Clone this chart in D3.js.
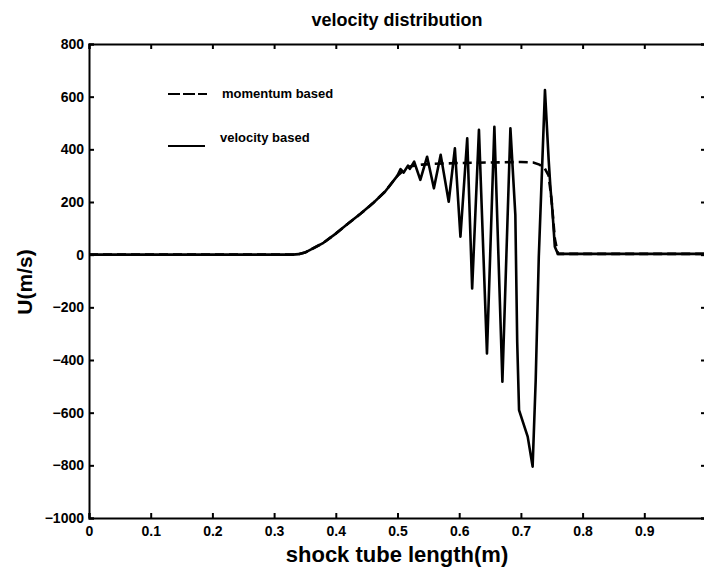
<!DOCTYPE html>
<html>
<head>
<meta charset="utf-8">
<script src="https://cdn.jsdelivr.net/npm/d3@7"></script>
<style>
  body { margin: 0; background: #fff; }
  svg { display: block; }
  text { font-family: "Liberation Sans", Arial, Helvetica, sans-serif; font-weight: bold; fill: #000; }
  .axis path, .axis line { stroke: #000; stroke-width: 2; }
  .axis text { font-size: 14px; }
</style>
</head>
<body>
<svg id="chart" width="704" height="568"></svg>
<script>
// velocity distribution along the shock tube

// x positions (m) and velocity (m/s) - velocity based
var velX = [0, 0.33, 0.34, 0.35, 0.36, 0.38, 0.40, 0.42, 0.44, 0.46, 0.48, 0.50, 0.505, 0.51, 0.517, 0.52,
    0.527, 0.537, 0.548, 0.559, 0.570, 0.583, 0.593, 0.602, 0.613, 0.621, 0.632, 0.645, 0.657, 0.670,
    0.683, 0.691, 0.694, 0.697, 0.711, 0.719, 0.724, 0.729, 0.739, 0.745, 0.748, 0.751, 0.755, 0.760, 1.0];
var velU = [0, 0, 2, 8, 20, 45, 80, 118, 155, 195, 240, 300, 325, 312, 338, 326,
    353, 284, 372, 252, 379, 201, 404, 68, 442, -128, 474, -375, 486, -482,
    480, 150, -330, -590, -691, -805, -476, -8, 625, 360, 250, 170, 30, 3, 3];

// momentum based
var momX = [0, 0.33, 0.34, 0.35, 0.36, 0.38, 0.40, 0.42, 0.44, 0.46, 0.48, 0.50, 0.51, 0.52, 0.54, 0.56,
    0.60, 0.65, 0.70, 0.72, 0.73, 0.738, 0.745, 0.75, 0.755, 0.76, 1.0];
var momU = [0, 0, 2, 8, 20, 45, 80, 118, 155, 195, 240, 300, 320, 335, 342, 345,
    348, 350, 352, 350, 342, 330, 300, 200, 60, 3, 3];

var xTicks = [0, 0.1, 0.2, 0.3, 0.4, 0.5, 0.6, 0.7, 0.8, 0.9];
var yTicks = [800, 600, 400, 200, 0, -200, -400, -600, -800, -1000];

var svg = d3.select("#chart"),
    margin = { top: 44, left: 89 },
    plotRight = 706,
    plotBottom = 518;

var x = d3.scaleLinear().domain([0, 1]).range([margin.left, plotRight]),
    y = d3.scaleLinear().domain([-1000, 800]).range([plotBottom, margin.top]);

// axes, ticks pointing inward
svg.append("g")
    .attr("class", "axis")
    .attr("transform", "translate(0," + plotBottom + ")")
    .call(d3.axisBottom(x).tickValues(xTicks).tickSize(-5).tickPadding(8).tickFormat(function (d) { return String(d); }));

svg.append("g")
    .attr("class", "axis")
    .attr("transform", "translate(0," + margin.top + ")")
    .call(d3.axisTop(x).tickValues(xTicks).tickSize(-5).tickFormat(""));

svg.append("g")
    .attr("class", "axis")
    .attr("transform", "translate(" + margin.left + ",0)")
    .call(d3.axisLeft(y).tickValues(yTicks).tickSize(-5).tickPadding(5).tickFormat(d3.format("d")));

svg.append("g")
    .attr("class", "axis")
    .attr("transform", "translate(" + plotRight + ",0)")
    .call(d3.axisRight(y).tickValues(yTicks).tickSize(-5).tickFormat(""));

svg.selectAll(".axis .domain").attr("stroke-width", 2.5);

// curves
var line = d3.line()
    .x(function (d) { return x(d[0]); })
    .y(function (d) { return y(d[1]); });

var velData = velX.map(function (v, i) { return [v, velU[i]]; });
var momData = momX.map(function (v, i) { return [v, momU[i]]; });

svg.append("path")
    .datum(momData)
    .attr("fill", "none")
    .attr("stroke", "#000")
    .attr("stroke-width", 2.6)
    .attr("stroke-dasharray", "9,5")
    .attr("d", line);

svg.append("path")
    .datum(velData)
    .attr("fill", "none")
    .attr("stroke", "#000")
    .attr("stroke-width", 2.6)
    .attr("stroke-linejoin", "round")
    .attr("d", line);

// legend
svg.append("line")
    .attr("x1", 168).attr("x2", 207).attr("y1", 94).attr("y2", 94)
    .attr("stroke", "#000").attr("stroke-width", 2.2).attr("stroke-dasharray", "12,3");
svg.append("text").attr("x", 222).attr("y", 98).style("font-size", "13px").text("momentum based");

svg.append("line")
    .attr("x1", 168).attr("x2", 205).attr("y1", 146).attr("y2", 146)
    .attr("stroke", "#000").attr("stroke-width", 2.2);
svg.append("text").attr("x", 220).attr("y", 142).style("font-size", "13px").text("velocity based");

// titles
svg.append("text")
    .attr("x", 397).attr("y", 26)
    .attr("text-anchor", "middle")
    .style("font-size", "18px")
    .text("velocity distribution");

svg.append("text")
    .attr("x", 397).attr("y", 562)
    .attr("text-anchor", "middle")
    .style("font-size", "22px")
    .text("shock tube length(m)");

svg.append("text")
    .attr("transform", "translate(32,282) rotate(-90)")
    .attr("text-anchor", "middle")
    .style("font-size", "21px")
    .text("U(m/s)");
</script>
</body>
</html>
